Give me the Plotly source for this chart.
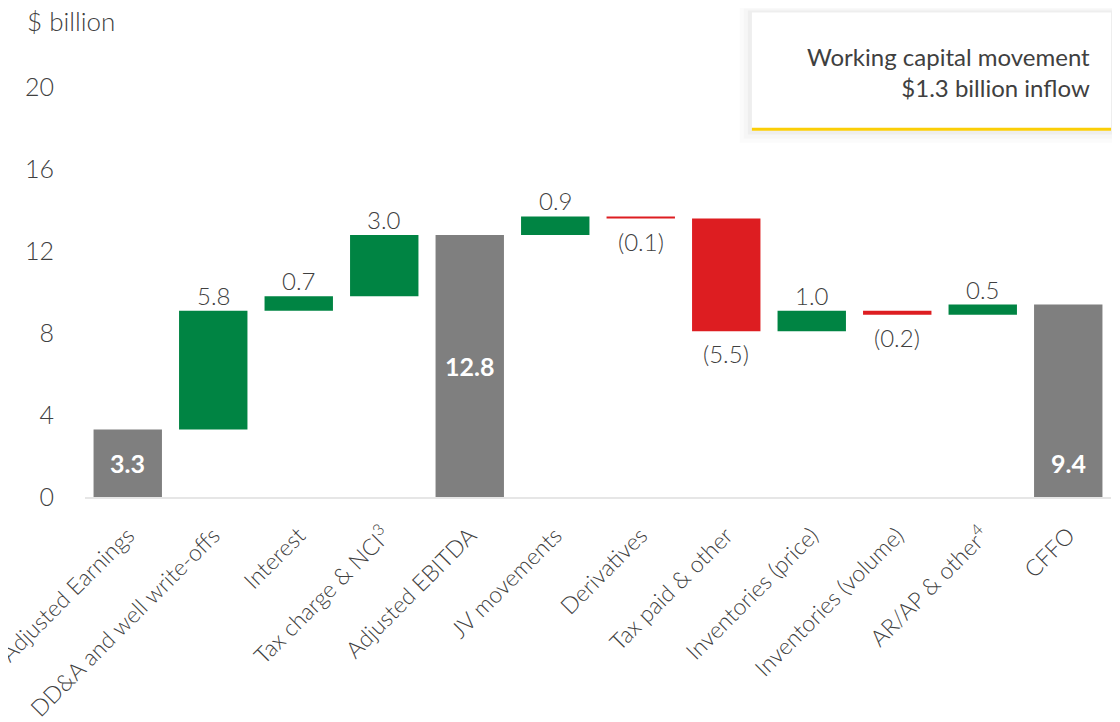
import plotly.graph_objects as go

# =====================================================
# DATA
# =====================================================

categories = [
    "Adjusted Earnings",
    "DD&A and well write-offs",
    "Interest",
    "Tax charge & NCI<sup>3</sup>",
    "Adjusted EBITDA",
    "JV movements",
    "Derivatives",
    "Tax paid & other",
    "Inventories (price)",
    "Inventories (volume)",
    "AR/AP & other<sup>4</sup>",
    "CFFO",
]

values = [3.3, 5.8, 0.7, 3.0, 12.8, 0.9, -0.1, -5.5, 1.0, -0.2, 0.5, 9.4]

kinds = ["total", "up", "up", "up", "total", "up", "down", "down", "up", "down", "up", "total"]

tick_values = [0, 4, 8, 12, 16, 20]

# =====================================================
# STYLE
# =====================================================

GREY = "#7f7f7f"
GREEN = "#008443"
RED = "#dd1d21"
YELLOW = "#fbce07"
TEXT = "#404040"
FONT = "Lato"

colors = {"total": GREY, "up": GREEN, "down": RED}

# =====================================================
# WATERFALL GEOMETRY
# =====================================================

bases = []
heights = []
level = 0.0
for v, k in zip(values, kinds):
    if k == "total":
        bases.append(0)
        heights.append(v)
        level = v
    else:
        bases.append(level + min(v, 0))
        heights.append(abs(v))
        level = level + v

fig = go.Figure()

fig.add_trace(
    go.Bar(
        x=categories,
        y=heights,
        base=bases,
        marker=dict(color=[colors[k] for k in kinds], line=dict(width=0)),
        width=0.8,
        hoverinfo="skip",
    )
)

# value labels
annotations = []
for i, (v, k) in enumerate(zip(values, kinds)):
    if k == "total":
        label_y = v / 2 if i == 4 else min(values[0], v) / 2
        annotations.append(dict(
            x=categories[i], y=label_y, text="<b>%.1f</b>" % v,
            showarrow=False, font=dict(family=FONT, size=25, color="white"),
            yanchor="middle",
        ))
    elif k == "up":
        annotations.append(dict(
            x=categories[i], y=bases[i] + heights[i], text="%.1f" % v,
            showarrow=False, font=dict(family=FONT, size=24, color=TEXT, weight=300),
            yanchor="bottom", yshift=-1,
        ))
    else:
        annotations.append(dict(
            x=categories[i], y=bases[i], text="(%.1f)" % abs(v),
            showarrow=False, font=dict(family=FONT, size=24, color=TEXT, weight=300),
            yanchor="top", yshift=-6,
        ))

annotations.append(dict(
    xref="paper", yref="paper", x=-0.0585, y=1.0, yshift=46,
    text="$ billion", showarrow=False, xanchor="left", yanchor="middle",
    font=dict(family=FONT, size=26, color=TEXT, weight=300),
))

annotations.append(dict(
    xref="paper", yref="paper", x=0.9815, y=0.988,
    text="Working capital movement<br>$1.3 billion inflow",
    showarrow=False, xanchor="right", yanchor="middle", align="right",
    font=dict(family=FONT, size=24, color=TEXT),
))

# info box with soft shadow and yellow underline
shapes = []
for pad, alpha in [(0.012, 0.015), (0.008, 0.02), (0.004, 0.03)]:
    shapes.append(dict(
        type="rect", xref="paper", yref="paper",
        x0=0.650 - pad, x1=1.0 + pad, y0=0.8525 - pad * 2.4, y1=1.1266 + pad * 1.2,
        fillcolor="rgba(0,0,0,%s)" % alpha, line=dict(width=0), layer="below",
    ))
shapes.append(dict(
    type="rect", xref="paper", yref="paper", x0=0.650, x1=1.0, y0=0.8525, y1=1.1266,
    fillcolor="white", line=dict(width=0), layer="below",
))
shapes.append(dict(
    type="line", xref="paper", yref="paper", x0=0.650, x1=1.0, y0=0.8555, y1=0.8555,
    line=dict(color=YELLOW, width=3),
))

fig.update_layout(
    width=1120,
    height=722,
    margin=dict(l=77, r=17, t=59, b=233, autoexpand=False),
    paper_bgcolor="white",
    plot_bgcolor="white",
    showlegend=False,
    bargap=0.2,
    font=dict(family=FONT, color=TEXT),
    annotations=annotations,
    shapes=shapes,
    xaxis=dict(
        type="category",
        tickangle=-45,
        tickfont=dict(family=FONT, size=23, color=TEXT, weight=300),
        showline=True,
        linecolor="#e6e6e6",
        linewidth=2,
        ticks="",
        showgrid=False,
        range=[-0.5, 11.5],
        ticklabelstandoff=14,
        automargin=False,
    ),
    yaxis=dict(
        range=[0, 21],
        tickvals=tick_values,
        tickfont=dict(family=FONT, size=25, color=TEXT, weight=300),
        showgrid=False,
        zeroline=False,
        ticks="",
        ticklabelstandoff=30,
        automargin=False,
    ),
)

fig.write_html("out.html")
